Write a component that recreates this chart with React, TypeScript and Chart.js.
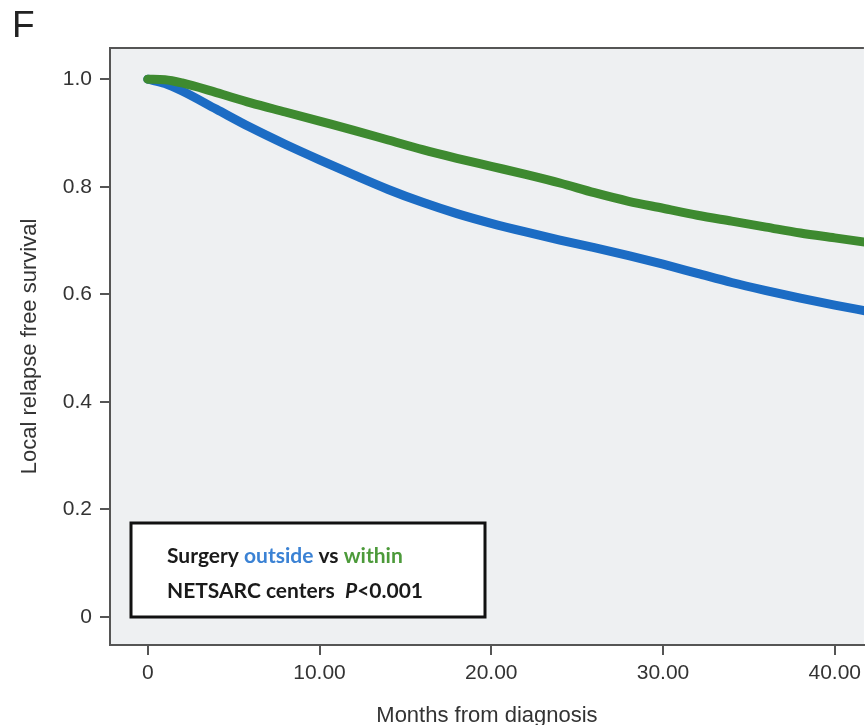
import React, { useEffect, useRef } from "react";
import { Chart, registerables } from "chart.js";

Chart.register(...registerables);

// ---- data ----
const months = [0, 1, 2, 4, 6, 8, 10, 12, 14, 16, 18, 20, 22, 24, 26, 28, 30, 32, 34, 36, 38, 40, 42];
const outsideSurvival = [1.0, 0.992, 0.978, 0.944, 0.91, 0.879, 0.85, 0.822, 0.795, 0.771, 0.75, 0.732, 0.716, 0.701, 0.687, 0.672, 0.656, 0.639, 0.622, 0.607, 0.593, 0.58, 0.568];
const withinSurvival = [1.0, 0.999, 0.993, 0.975, 0.956, 0.939, 0.922, 0.905, 0.887, 0.869, 0.853, 0.838, 0.823, 0.807, 0.789, 0.773, 0.76, 0.747, 0.736, 0.725, 0.714, 0.705, 0.696];
const xTickValues = [0, 10, 20, 30, 40];
const xTickLabels = ["0", "10.00", "20.00", "30.00", "40.00"];
const yTickValues = [0, 0.2, 0.4, 0.6, 0.8, 1.0];
const yTickLabels = ["0", "0.2", "0.4", "0.6", "0.8", "1.0"];
const seriesNames = ["Surgery within NETSARC centers", "Surgery outside NETSARC centers"];
const panelLetter = "F";
const xTitle = "Months from diagnosis";
const yTitle = "Local relapse free survival";
const noteLine1 = [
  { text: "Surgery ", color: "#1a1a1a" },
  { text: "outside", color: "#3b82d4" },
  { text: " vs ", color: "#1a1a1a" },
  { text: "within", color: "#4c9a3a" },
];
const noteLine2 = [
  { text: "NETSARC centers  ", color: "#1a1a1a", italic: false },
  { text: "P", color: "#1a1a1a", italic: true },
  { text: "<0.001", color: "#1a1a1a", italic: false },
];

const BLUE = "#1c6cc4";
const GREEN = "#3e8a30";
const AXIS = "#555555";
const TEXT = "#333333";

const decorPlugin = {
  id: "decor",
  beforeDraw(chart: any) {
    const { ctx, chartArea } = chart;
    ctx.save();
    ctx.fillStyle = "#eef0f2";
    ctx.fillRect(chartArea.left, chartArea.top, chartArea.right - chartArea.left, chartArea.bottom - chartArea.top);
    ctx.restore();
  },
  afterDraw(chart: any) {
    const { ctx, chartArea } = chart;
    ctx.save();
    // top border
    ctx.strokeStyle = AXIS;
    ctx.lineWidth = 2;
    ctx.beginPath();
    ctx.moveTo(chartArea.left - 1, chartArea.top);
    ctx.lineTo(chartArea.right, chartArea.top);
    ctx.stroke();

    // panel letter
    ctx.fillStyle = "#222";
    ctx.font = "37px 'Liberation Sans', Arial, sans-serif";
    ctx.textBaseline = "alphabetic";
    ctx.textAlign = "left";
    ctx.fillText(panelLetter, 12, 37);

    // note box
    const bx = chartArea.left + 21;
    const by = 523;
    const bw = 354;
    const bh = 94;
    ctx.fillStyle = "#ffffff";
    ctx.fillRect(bx, by, bw, bh);
    ctx.strokeStyle = "#111";
    ctx.lineWidth = 3;
    ctx.strokeRect(bx, by, bw, bh);

    const drawRuns = (runs: any[], x: number, y: number) => {
      let cx = x;
      for (const r of runs) {
        ctx.font = `${r.italic ? "italic " : ""}bold 21px Lato, 'Open Sans', sans-serif`;
        ctx.fillStyle = r.color;
        ctx.fillText(r.text, cx, y);
        cx += ctx.measureText(r.text).width;
      }
    };
    drawRuns(noteLine1, bx + 36, by + 40);
    drawRuns(noteLine2, bx + 36, by + 75);
    ctx.restore();
  },
};

export default function App() {
  const canvasRef = useRef<HTMLCanvasElement | null>(null);

  useEffect(() => {
    const canvas = canvasRef.current;
    if (!canvas) return;
    const chart = new Chart(canvas, {
      type: "line",
      data: {
        datasets: [
          {
            label: seriesNames[0],
            data: months.map((m, i) => ({ x: m, y: withinSurvival[i] })),
            borderColor: GREEN,
            backgroundColor: GREEN,
            borderWidth: 9,
            borderCapStyle: "round",
            borderJoinStyle: "round",
            pointRadius: 0,
            cubicInterpolationMode: "monotone",
          },
          {
            label: seriesNames[1],
            data: months.map((m, i) => ({ x: m, y: outsideSurvival[i] })),
            borderColor: BLUE,
            backgroundColor: BLUE,
            borderWidth: 9,
            borderCapStyle: "round",
            borderJoinStyle: "round",
            pointRadius: 0,
            cubicInterpolationMode: "monotone",
          },
        ],
      },
      options: {
        animation: false,
        responsive: false,
        layout: { padding: { top: 48, right: 0, bottom: 0, left: 0 } },
        plugins: { legend: { display: false }, tooltip: { enabled: false } },
        scales: {
          x: {
            type: "linear",
            min: -2.2,
            max: 41.7,
            afterFit(scale: any) {
              scale.height = 80;
            },
            afterBuildTicks(scale: any) {
              scale.ticks = xTickValues.map((v) => ({ value: v }));
            },
            ticks: {
              padding: 6,
              color: TEXT,
              font: { family: "'Liberation Sans', Arial, sans-serif", size: 21 },
              callback: (_v: any, i: number) => xTickLabels[i],
            },
            grid: { display: true, drawOnChartArea: false, drawTicks: true, tickLength: 10, color: AXIS, lineWidth: 2 },
            border: { display: true, color: AXIS, width: 2 },
            title: {
              display: true,
              text: xTitle,
              color: TEXT,
              font: { family: "'Liberation Sans', Arial, sans-serif", size: 22, lineHeight: 1 },
              padding: { top: 0, bottom: -2 },
            },
          },
          y: {
            type: "linear",
            min: -0.052,
            max: 1.058,
            afterFit(scale: any) {
              scale.width = 110;
            },
            afterBuildTicks(scale: any) {
              scale.ticks = yTickValues.map((v) => ({ value: v }));
            },
            ticks: {
              padding: 8,
              color: TEXT,
              font: { family: "'Liberation Sans', Arial, sans-serif", size: 21 },
              callback: (_v: any, i: number) => yTickLabels[i],
            },
            grid: { display: true, drawOnChartArea: false, drawTicks: true, tickLength: 10, color: AXIS, lineWidth: 2 },
            border: { display: true, color: AXIS, width: 2 },
            title: {
              display: true,
              text: yTitle,
              color: TEXT,
              font: { family: "'Liberation Sans', Arial, sans-serif", size: 22, lineHeight: 1 },
              padding: { top: 19, bottom: 0 },
            },
          },
        },
      },
      plugins: [decorPlugin],
    } as any);
    return () => chart.destroy();
  }, []);

  return (
    <div style={{ position: "absolute", left: 0, top: 0, width: 867, height: 725, background: "#fff", overflow: "hidden" }}>
      <canvas ref={canvasRef} width={867} height={725} style={{ display: "block" }} />
    </div>
  );
}
